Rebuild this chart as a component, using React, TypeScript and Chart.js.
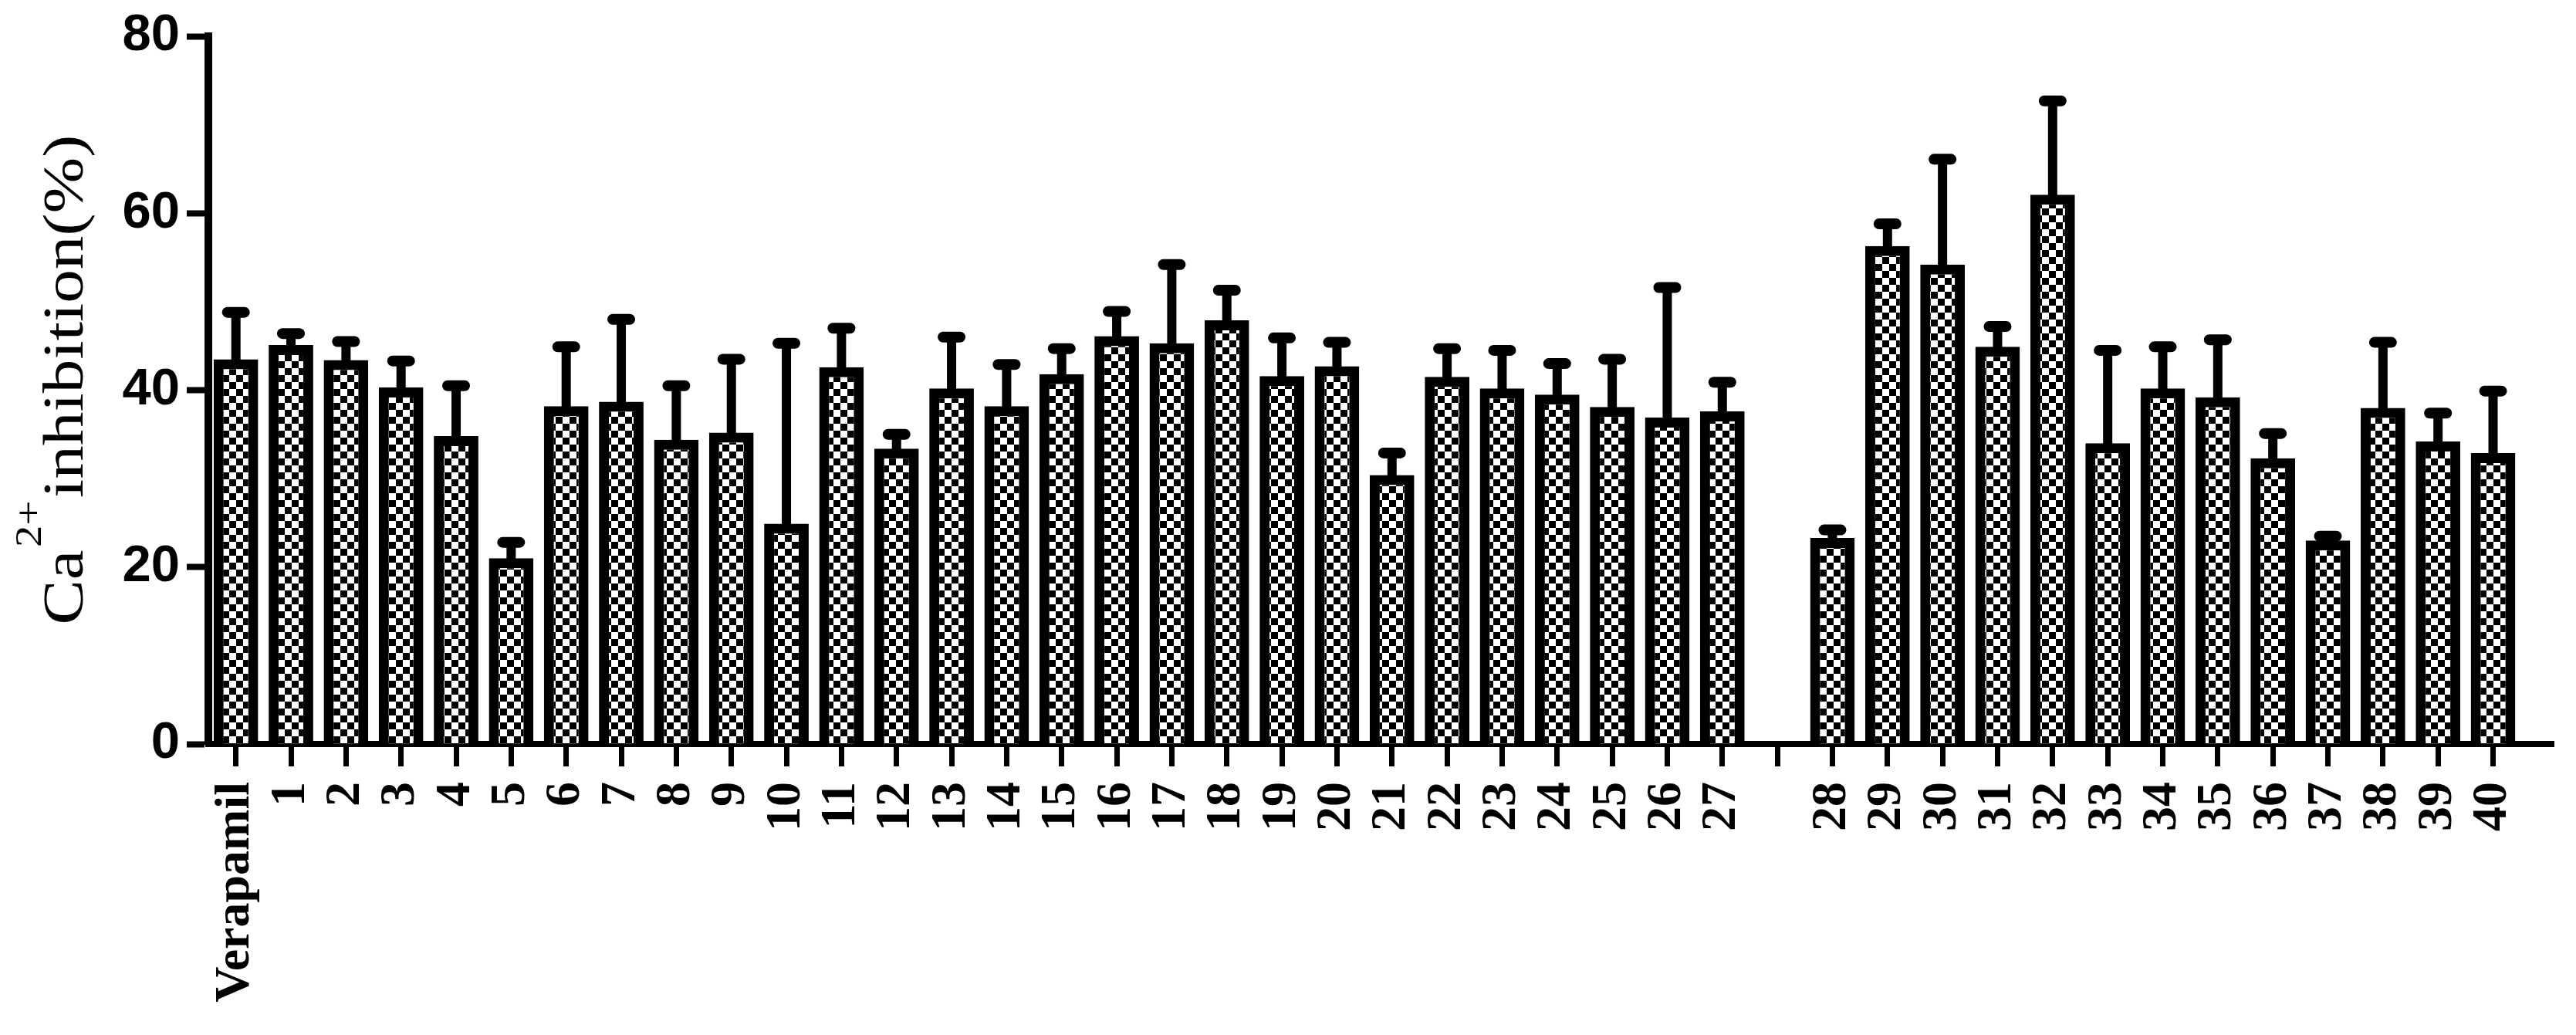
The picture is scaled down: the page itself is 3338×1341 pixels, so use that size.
import React, { useEffect, useRef } from 'react';
import { Chart, registerables } from 'chart.js';

Chart.register(...registerables);

// ---- data ----
const categories: string[] = [
  'Verapamil', '1', '2', '3', '4', '5', '6', '7', '8', '9', '10',
  '11', '12', '13', '14', '15', '16', '17', '18', '19', '20',
  '21', '22', '23', '24', '25', '26', '27', '',
  '28', '29', '30', '31', '32', '33', '34', '35', '36', '37', '38', '39', '40',
];

const values: (number | null)[] = [
  43.5, 45.1, 43.4, 40.3, 34.8, 21.0, 38.2, 38.7, 34.4, 35.2, 24.9,
  42.6, 33.4, 40.2, 38.2, 41.8, 46.1, 45.3, 47.9, 41.6, 42.7,
  30.4, 41.5, 40.2, 39.5, 38.1, 36.9, 37.6, null,
  23.3, 56.3, 54.2, 44.9, 62.1, 34.0, 40.2, 39.2, 32.3, 23.0, 38.0, 34.2, 32.9,
];

const errors: (number | null)[] = [
  5.3, 1.3, 2.1, 3.0, 5.7, 1.8, 6.7, 9.3, 6.1, 8.3, 20.4,
  4.4, 1.6, 5.8, 4.7, 2.9, 2.8, 8.9, 3.4, 4.3, 2.7,
  2.5, 3.2, 4.3, 3.5, 5.4, 14.7, 3.3, null,
  0.9, 2.5, 11.9, 2.3, 10.6, 10.5, 4.7, 6.5, 2.8, 0.5, 7.4, 3.2, 7.0,
];

const yTickValues: number[] = [0, 20, 40, 60, 80];
const yTitleBase = 'Ca';
const yTitleSup = '2+';
const yTitleRest = 'inhibition(%)';

function makeChecker(): CanvasPattern | string {
  const c = document.createElement('canvas');
  const s = 9;
  c.width = s * 2;
  c.height = s * 2;
  const g = c.getContext('2d');
  if (!g) return '#888';
  g.fillStyle = '#fff';
  g.fillRect(0, 0, s * 2, s * 2);
  g.fillStyle = '#000';
  g.fillRect(0, 0, s, s);
  g.fillRect(s, s, s, s);
  const p = g.createPattern(c, 'repeat');
  return p || '#888';
}

const errorBarPlugin = {
  id: 'errorBars',
  afterDatasetsDraw(chart: any) {
    const ctx = chart.ctx;
    const yScale = chart.scales.y;
    const meta = chart.getDatasetMeta(0);
    const pts = chart.data.datasets[0].data as { x: number; y: number }[];
    ctx.save();
    ctx.strokeStyle = '#000';
    meta.data.forEach((bar: any, j: number) => {
      const idx = pts[j].x;
      const v = values[idx];
      const e = errors[idx];
      if (v == null || e == null) return;
      const top = yScale.getPixelForValue(v + e);
      const x = bar.x;
      ctx.lineWidth = 12;
      ctx.lineCap = 'butt';
      ctx.beginPath();
      ctx.moveTo(x, bar.y + 2);
      ctx.lineTo(x, top);
      ctx.stroke();
      ctx.lineWidth = 14;
      ctx.lineCap = 'round';
      ctx.beginPath();
      ctx.moveTo(x - 11, top);
      ctx.lineTo(x + 11, top);
      ctx.stroke();
    });
    ctx.restore();
  },
};

const yTitlePlugin = {
  id: 'yTitle',
  afterDraw(chart: any) {
    const ctx = chart.ctx;
    const mainFont = '74px "Liberation Serif", "Times New Roman", serif';
    const supFont = '48px "Liberation Serif", "Times New Roman", serif';
    const stretch = 1.18;
    ctx.save();
    ctx.font = mainFont;
    const wBase = ctx.measureText(yTitleBase).width;
    const wRest = ctx.measureText(yTitleRest).width;
    ctx.font = supFont;
    const wSup = ctx.measureText(yTitleSup).width;
    const total = (wBase + wSup + wRest + 6) * stretch;
    const centerY = 492;
    ctx.translate(107, centerY);
    ctx.rotate(-Math.PI / 2);
    ctx.scale(stretch, 1);
    ctx.fillStyle = '#000';
    ctx.textBaseline = 'alphabetic';
    ctx.textAlign = 'left';
    let x = -total / 2 / stretch;
    ctx.font = mainFont;
    ctx.fillText(yTitleBase, x, 0);
    x += wBase + 3;
    ctx.font = supFont;
    ctx.fillText(yTitleSup, x, -54);
    x += wSup + 3;
    ctx.font = mainFont;
    ctx.fillText(yTitleRest, x, 0);
    ctx.restore();
  },
};

export default function App() {
  const canvasRef = useRef<HTMLCanvasElement | null>(null);

  useEffect(() => {
    const canvas = canvasRef.current;
    if (!canvas) return;
    const pattern = makeChecker();
    const points = categories
      .map((_, i) => ({ x: i, y: values[i] }))
      .filter((p) => p.y != null) as { x: number; y: number }[];

    const chart = new Chart(canvas, {
      type: 'bar',
      data: {
        datasets: [
          {
            data: points as any,
            backgroundColor: pattern as any,
            borderColor: '#000',
            borderWidth: 13,
            borderSkipped: 'bottom',
            barPercentage: 0.81,
            categoryPercentage: 1,
          },
        ],
      },
      options: {
        animation: false,
        responsive: true,
        maintainAspectRatio: false,
        devicePixelRatio: 1,
        layout: { padding: { top: 47, right: 29, bottom: 0, left: 0 } },
        plugins: {
          legend: { display: false },
          tooltip: { enabled: false },
          title: { display: false },
        },
        scales: {
          x: {
            type: 'linear',
            min: -0.5,
            max: 42.1,
            offset: false,
            z: 1,
            afterBuildTicks: (scale: any) => {
              scale.ticks = categories.map((_, i) => ({ value: i }));
            },
            afterFit: (scale: any) => {
              scale.height = 377;
            },
            grid: {
              offset: false,
              drawOnChartArea: false,
              drawTicks: true,
              tickLength: 29,
              tickWidth: 7,
              color: '#000',
            },
            border: { display: true, color: '#000', width: 8 },
            ticks: {
              autoSkip: false,
              maxRotation: 90,
              minRotation: 90,
              padding: 20,
              color: '#000',
              font: { family: '"Liberation Serif", "Times New Roman", serif', size: 64, weight: 'bold', lineHeight: 1.1 },
              callback: (value: any) => {
                const i = Math.round(Number(value));
                return categories[i] ?? '';
              },
            },
          },
          y: {
            type: 'linear',
            min: 0,
            max: 80,
            z: 1,
            afterBuildTicks: (scale: any) => {
              scale.ticks = yTickValues.map((v) => ({ value: v }));
            },
            afterFit: (scale: any) => {
              scale.width = 270;
            },
            grid: {
              drawOnChartArea: false,
              drawTicks: true,
              tickLength: 28,
              tickWidth: 8,
              color: '#000',
            },
            border: { display: true, color: '#000', width: 10 },
            ticks: {
              padding: 9,
              color: '#000',
              font: { family: '"Liberation Sans", Arial, sans-serif', size: 67, weight: 'bold', lineHeight: 1.0 },
              callback: (value: any) => String(value),
            },
          },
        },
      },
      plugins: [errorBarPlugin, yTitlePlugin],
    });

    return () => {
      chart.destroy();
    };
  }, []);

  return (
    <div style={{ position: 'absolute', left: 0, top: 0, width: 3338, height: 1341, background: '#fff' }}>
      <canvas ref={canvasRef} />
    </div>
  );
}
